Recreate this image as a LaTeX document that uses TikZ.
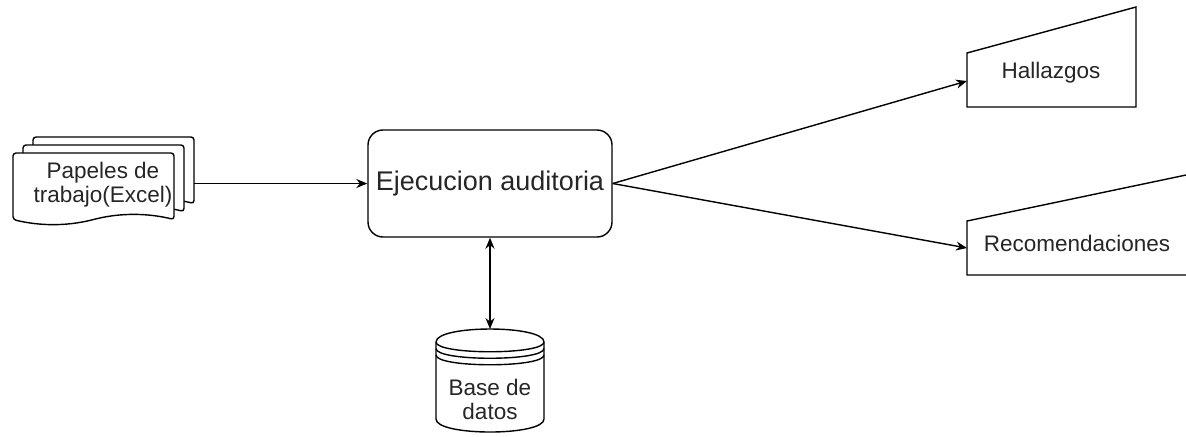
\documentclass[tikz,border=0pt]{standalone}
\usepackage{fontspec}
\setmainfont{Liberation Sans}
\usetikzlibrary{arrows.meta}
\newcommand\docsheet[2]{%
  \draw[sheet] (#1,#2) -- ({#1+161},#2) -- ({#1+161},{#2+66.5})
    .. controls ({#1+134.2},{#2+59.9}) and ({#1+107.3},{#2+59.9}) .. ({#1+80.5},{#2+66.5})
    .. controls ({#1+53.7},{#2+73.1}) and ({#1+26.8},{#2+73.1}) .. (#1,{#2+66.5}) -- cycle;}

\begin{document}
\begin{tikzpicture}[x=0.5pt,y=-0.5pt,line width=0.7pt,
  sheet/.style={draw,fill=white,rounded corners=1.5pt},
  outline/.style={draw,fill=white},
  procbox/.style={draw,rounded corners=7.5pt,minimum width=122pt,
    minimum height=53.5pt,inner sep=0pt,text=black!85,
    font=\fontsize{13.5}{15}\selectfont},
  shapetext/.style={text=black!85,align=center,inner sep=1pt,
    font=\fontsize{11.25}{12}\selectfont},
  flow/.style={-{Stealth[length=5.5pt,width=4.5pt]}},
  twoway/.style={{Stealth[length=5.5pt,width=4.5pt]}-{Stealth[length=5.5pt,width=4.5pt]}}]
  \useasboundingbox (0,0) rectangle (1186,436);
  \clip (0,0) rectangle (1186,436);

  \docsheet{33}{137}
  \docsheet{23}{145}
  \docsheet{13}{153}
  \node[shapetext] (papers) at (103,185) {Papeles de\\trabajo(Excel)};
  \coordinate (papersout) at (194,183.5);

  \node[procbox] (exec) at (490,183.5) {Ejecucion auditoria};

  \draw[outline] (436,342) .. controls (436,324.67) and (544,324.67) .. (544,342)
    -- (544,419) .. controls (544,436.33) and (436,436.33) .. (436,419) -- cycle;
  \draw (436,342) .. controls (436,355) and (544,355) .. (544,342);
  \draw (436,348.5) .. controls (436,361.5) and (544,361.5) .. (544,348.5);
  \draw (436,355) .. controls (436,368) and (544,368) .. (544,355);
  \node[shapetext] (db) at (490,399) {Base de\\datos};
  \coordinate (dbtop) at (490,329);

  \draw[outline] (967,53) -- (1136,7) -- (1136,107) -- (967,107) -- cycle;
  \node[shapetext] (hall) at (1051,73) {Hallazgos};
  \coordinate (hallin) at (967,81);

  \draw[outline] (967,221) -- (1188,174.6) -- (1188,275) -- (967,275) -- cycle;
  \node[shapetext] (recom) at (1077,243) {Recomendaciones};
  \coordinate (recomin) at (967,248);

  \draw[flow] (papersout) -- (exec.west);
  \draw[flow] (exec.east) -- (hallin);
  \draw[flow] (exec.east) -- (recomin);
  \draw[twoway] (exec.south) -- (dbtop);
\end{tikzpicture}
\end{document}
